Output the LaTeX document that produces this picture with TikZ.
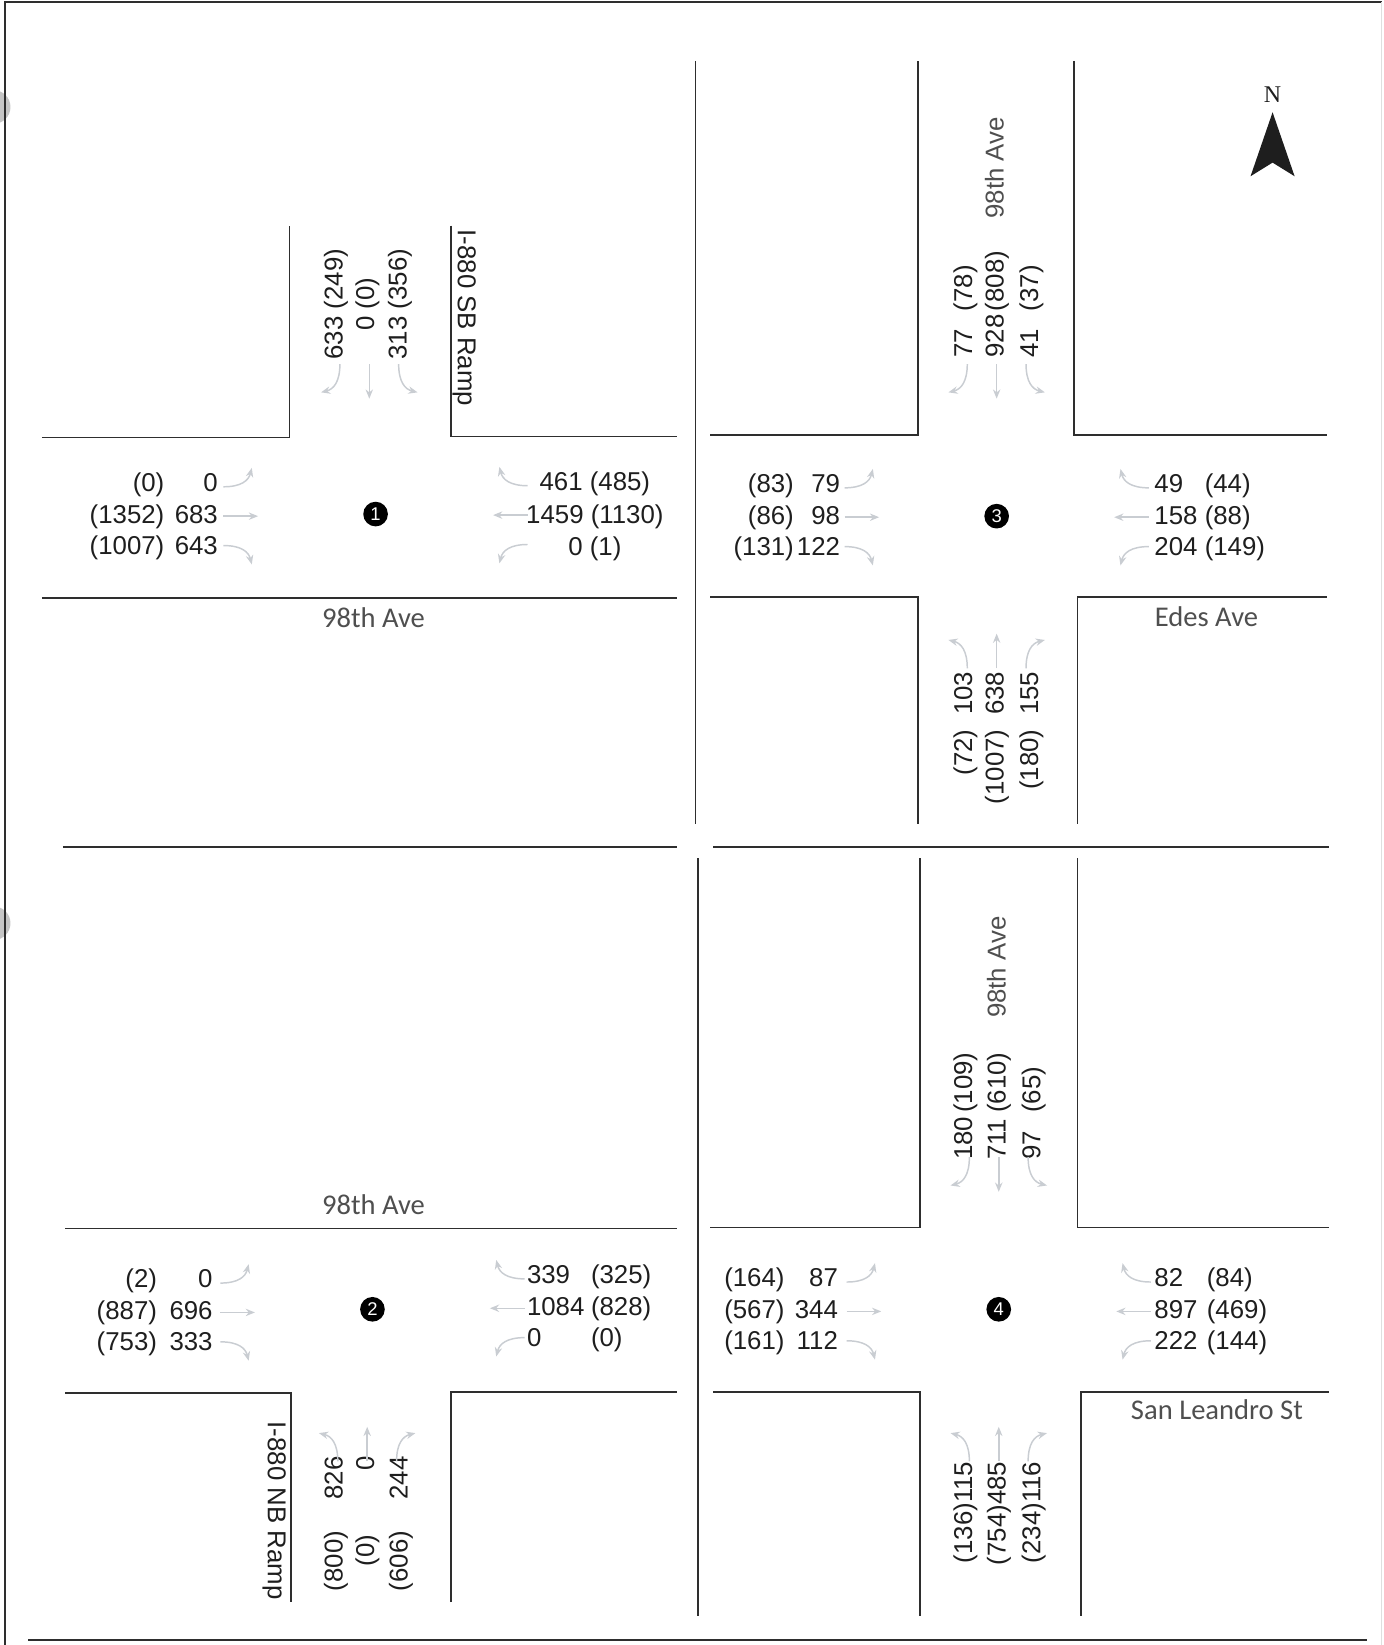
\documentclass[tikz,border=0pt]{standalone}
\usepackage{fontspec}
\setmainfont{Liberation Sans}
\newfontfamily\streetfont{Carlito}
\newfontfamily\northfont{Liberation Serif}
\usetikzlibrary{arrows.meta}
\definecolor{curbC}{HTML}{2E2E2E}
\definecolor{inkC}{HTML}{1E1E1E}
\definecolor{streetC}{HTML}{4F4F4F}
\definecolor{flowC}{HTML}{C9CDD2}
\tikzset{
  curb/.style={draw=curbC, line width=1pt},
  vol/.style={font=\fontsize{14}{16}\selectfont, text=inkC, inner sep=0pt,
              text height=10.5pt, text depth=3pt},
  vvol/.style={vol, rotate=90},
  sname/.style={font=\streetfont\fontsize{15.5}{18}\selectfont, text=streetC, inner sep=0pt},
  mv/.style={draw=flowC, line width=0.8pt, -{Stealth[length=5pt,width=4pt]}},
  tag/.style={circle, fill=black, text=white, inner sep=0pt, minimum size=4.7mm,
              font=\fontsize{10}{10}\selectfont},
}
% three movement arrows of one approach, drawn for eastbound and turned
\newcommand{\turnset}[3]{%
  \begin{scope}[shift={(#1,#2)}, rotate=#3]
    \draw[mv] (-145,-28) .. controls (-128,-28) and (-121,-34) .. (-118,-46);
    \draw[mv] (-145,0) -- (-112,0);
    \draw[mv] (-145,28) .. controls (-128,28) and (-121,34) .. (-118,46);
  \end{scope}}

\begin{document}
\begin{tikzpicture}[x=0.2mm, y=-0.2mm]
  \useasboundingbox (0,0) rectangle (1319,1568);
  % sheet edges
  \begin{scope}
    \clip (0,0) rectangle (1319,1568);
    \fill[gray!45] (-6,102) circle (16);
    \fill[gray!45] (-6,880) circle (16);
  \end{scope}
  \draw[curb, line width=1.1pt] (1317,2) -- (5,2) -- (5,1568);
  \draw[draw=gray!25, line width=0.8pt] (1317,2) -- (1317,1568);
  \draw[curb, line width=1.1pt] (27,1563) -- (1303,1563);
  % dividers
  \draw[curb] (663,58) -- (663,785);
  \draw[curb] (665,818) -- (665,1540);
  \draw[curb] (60,807) -- (645,807);
  \draw[curb] (680,807) -- (1267,807);

  % intersection 1
  \draw[curb] (40,417) -- (276,417) -- (276,215);
  \draw[curb] (430,215) -- (430,416) -- (645,416);
  \draw[curb] (40,570) -- (645,570);
  \node[tag] (i1) at (358,490) {1};
  \foreach \p/\c [count=\i] in {(0)/0, (1352)/683, (1007)/643}{
    \node[vol, anchor=east] (aWp\i) at (157,{432+30*\i}) {\p};
    \node[vol, anchor=east] (aWc\i) at (208,{432+30*\i}) {\c};
  }
  \foreach \lab [count=\i] in {461 (485), 1459 (1130), 0 (1)}
    \node[vol] (aE\i) at (567,{430+31*\i}) {\lab};
  \foreach \lab/\x [count=\i] in {633 (249)/320, 0 (0)/350, 313 (356)/381}
    \node[vvol] (aN\i) at (\x,290) {\lab};
  \node[vol, rotate=-90] (ramp1) at (443,303) {I-880 SB Ramp};
  \node[sname] (st1) at (356,589) {98th Ave};
  \turnset{358}{492}{0}
  \turnset{358}{491}{180}
  \turnset{352}{492}{-90}

  % intersection 2
  \draw[curb] (62,1171) -- (645,1171);
  \draw[curb] (62,1328) -- (277,1328) -- (277,1527);
  \draw[curb] (430,1527) -- (430,1327) -- (645,1327);
  \node[tag] (i2) at (355,1248) {2};
  \foreach \p/\c [count=\i] in {(2)/0, (887)/696, (753)/333}{
    \node[vol, anchor=east] (bWp\i) at (150,{1191+30*\i}) {\p};
    \node[vol, anchor=east] (bWc\i) at (203,{1191+30*\i}) {\c};
  }
  \foreach \c/\p [count=\i] in {339/(325), 1084/(828), 0/(0)}{
    \node[vol, anchor=west] (bEc\i) at (502,{1187+30*\i}) {\c};
    \node[vol, anchor=west] (bEp\i) at (563,{1187+30*\i}) {\p};
  }
  \foreach \c/\p/\x/\py [count=\i] in {826/(800)/320/1488, 0/(0)/350/1478, 244/(606)/382/1488}{
    \node[vvol, anchor=east] (bSc\i) at (\x,1388) {\c};
    \node[vvol] (bSp\i) at (\x,\py) {\p};
  }
  \node[vol, rotate=-90] (ramp2) at (262,1440) {I-880 NB Ramp};
  \node[sname] (st2) at (356,1148) {98th Ave};
  \turnset{355}{1251}{0}
  \turnset{355}{1247}{180}
  \turnset{350}{1248}{90}

  % intersection 3
  \draw[curb] (677,415) -- (875,415) -- (875,58);
  \draw[curb] (1024,58) -- (1024,415) -- (1265,415);
  \draw[curb] (677,569) -- (875,569) -- (875,785);
  \draw[curb] (1027,785) -- (1027,569) -- (1265,569);
  \node[tag] (i3) at (950,492) {3};
  \foreach \p/\c [count=\i] in {(83)/79, (86)/98, (131)/122}{
    \node[vol, anchor=east] (cWp\i) at (757,{433+30*\i}) {\p};
    \node[vol, anchor=east] (cWc\i) at (801,{433+30*\i}) {\c};
  }
  \foreach \c/\p [count=\i] in {49/(44), 158/(88), 204/(149)}{
    \node[vol, anchor=west] (cEc\i) at (1100,{433+30*\i}) {\c};
    \node[vol, anchor=west] (cEp\i) at (1148,{433+30*\i}) {\p};
  }
  \foreach \c/\p/\x [count=\i] in {77/(78)/920, 928/(808)/950, 41/(37)/983}{
    \node[vvol, anchor=west] (cNc\i) at (\x,341) {\c};
    \node[vvol, anchor=west] (cNp\i) at (\x,297) {\p};
  }
  \foreach \c/\p/\x [count=\i] in {103/(72)/920, 638/(1007)/950, 155/(180)/983}{
    \node[vvol, anchor=east] (cSc\i) at (\x,640) {\c};
    \node[vvol, anchor=east] (cSp\i) at (\x,695) {\p};
  }
  \node[vvol, text=streetC] (st3) at (950,160) {98th Ave};
  \node[sname] (st4) at (1150,588) {Edes Ave};
  \turnset{950}{493}{0}
  \turnset{950}{493}{180}
  \turnset{950}{492}{-90}
  \turnset{950}{492}{90}
  % north sign
  \node[font=\northfont\fontsize{13}{13}\selectfont, text=inkC, inner sep=0pt] (north) at (1213,90) {N};
  \fill[inkC] (1213,107) -- (1234,168) -- (1213,155) -- (1192,168) -- cycle;

  % intersection 4
  \draw[curb] (677,1170) -- (877,1170) -- (877,818);
  \draw[curb] (1027,818) -- (1027,1170) -- (1267,1170);
  \draw[curb] (680,1327) -- (877,1327) -- (877,1540);
  \draw[curb] (1030,1540) -- (1030,1327) -- (1267,1327);
  \node[tag] (i4) at (952,1248) {4};
  \foreach \p/\c [count=\i] in {(164)/87, (567)/344, (161)/112}{
    \node[vol, anchor=west] (dWp\i) at (690,{1190+30*\i}) {\p};
    \node[vol, anchor=east] (dWc\i) at (799,{1190+30*\i}) {\c};
  }
  \foreach \c/\p [count=\i] in {82/(84), 897/(469), 222/(144)}{
    \node[vol, anchor=west] (dEc\i) at (1100,{1190+30*\i}) {\c};
    \node[vol, anchor=west] (dEp\i) at (1150,{1190+30*\i}) {\p};
  }
  \foreach \c/\p/\x [count=\i] in {180/(109)/920, 711/(610)/952, 97/(65)/985}{
    \node[vvol, anchor=west] (dNc\i) at (\x,1106) {\c};
    \node[vvol, anchor=west] (dNp\i) at (\x,1061) {\p};
  }
  \foreach \lab/\x [count=\i] in {(136)115/920, (754)485/952, (234)116/985}
    \node[vvol, anchor=east] (dS\i) at (\x,1393) {\lab};
  \node[vvol, text=streetC] (st5) at (952,922) {98th Ave};
  \node[sname] (st6) at (1160,1344) {San Leandro St};
  \turnset{952}{1250}{0}
  \turnset{952}{1250}{180}
  \turnset{952}{1248}{-90}
  \turnset{952}{1248}{90}
\end{tikzpicture}
\end{document}
